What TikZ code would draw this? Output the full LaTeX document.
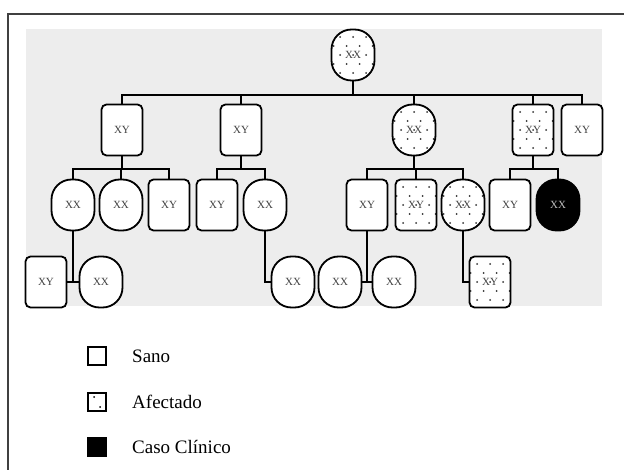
\documentclass[tikz,border=0pt]{standalone}
\usepackage{fontspec}
\setmainfont{Liberation Serif}
\usetikzlibrary{positioning}

\tikzset{
  person/.style={draw, line width=1.8pt, fill=white, minimum height=51pt, inner sep=0pt,
    font=\fontsize{11}{13}\selectfont, text=black!75},
  male/.style={person, rectangle, rounded corners=5pt, minimum width=41pt},
  female/.style={person, rectangle, rounded corners=20pt, minimum width=43pt},
  % dotted fill for the affected ones
  affected/.style={path picture={
    \foreach \j in {-3,...,3}
      \foreach \i in {-2,...,2}
        \fill[black!80] ([shift={({\i*13pt+mod(abs(\j),2)*6.5pt},{\j*9pt})}]path picture bounding box.center) circle (1pt);
  }},
  caso/.style={fill=black, text=black!25},
  link/.style={line width=2.8pt},
  legbox/.style={draw, line width=1.4pt, minimum size=18pt, inner sep=0pt},
  legtext/.style={right=22pt of #1, font=\fontsize{19}{22}\selectfont},
}

\begin{document}
\begin{tikzpicture}[x=1pt, y=-1pt]
\useasboundingbox (0,0) rectangle (624,470);

% frame and grey panel
\draw[black!75, line width=1.3pt] (8,470) -- (8,14) -- (624,14);
\fill[black!7] (26,29) rectangle (602,306);

% generation I
\node[female, affected] (G) at (353,55) {XX};

% generation II
\node[male] (a1) at (122,130) {XY};
\node[male] (a2) at (241,130) {XY};
\node[female, affected] (a3) at (414,130) {XX};
\node[male, affected] (a4) at (533,130) {XY};
\node[male] (a5) at (582,130) {XY};

% generation III
\node[female] (b1) at (73,205) {XX};
\node[female] (b2) at (121,205) {XX};
\node[male] (b3) at (169,205) {XY};
\node[male] (b4) at (217,205) {XY};
\node[female] (b5) at (265,205) {XX};
\node[male] (b6) at (367,205) {XY};
\node[male, affected] (b7) at (416,205) {XY};
\node[female, affected] (b8) at (463,205) {XX};
\node[male] (b9) at (510,205) {XY};
\node[female, caso] (b10) at (558,205) {XX};

% generation IV
\node[male] (c1) at (46,282) {XY};
\node[female] (c2) at (101,282) {XX};
\node[female] (c3) at (293,282) {XX};
\node[female] (c4) at (340,282) {XX};
\node[female] (c5) at (394,282) {XX};
\node[male, affected] (c6) at (490,282) {XY};

% connectors
\draw[link] (G.south) -- (G.south |- 0,95) coordinate (top);
\draw[link] (a1.north) |- (a5.north |- top) -- (a5.north);
\foreach \n in {a2,a3,a4}
  \draw[link] (\n.north) -- (\n.north |- top);

\foreach \p/\l/\r in {a1/b1/b3, a2/b4/b5, a3/b6/b8, a4/b9/b10}
{
  \draw[link] (\p.south) -- (\p.south |- 0,169) coordinate (m\p);
  \draw[link] (\l.north) |- (\r.north |- m\p) -- (\r.north);
}
\foreach \p/\n in {a1/b2, a3/b7}
  \draw[link] (\n.north) -- (\n.north |- m\p);

\draw[link] (c1.east) -- (c2.west);
\draw[link] (b1.south) -- (b1.south |- c1.east);
\draw[link] (b5.south) |- (c3.west);
\draw[link] (c4.east) -- (c5.west);
\draw[link] (b6.south) -- (b6.south |- c4.east);
\draw[link] (b8.south) |- (c6.west);

% legend
\node[legbox] (sano) at (97,356) {};
\node[legbox, path picture={
  \fill ([shift={(-3pt,5pt)}]path picture bounding box.center) circle (1pt);
  \fill ([shift={(3pt,-5pt)}]path picture bounding box.center) circle (1pt);
}] (afec) at (97,402) {};
\node[legbox, fill=black] (caso) at (97,447) {};
\node[legtext=sano] {Sano};
\node[legtext=afec] {Afectado};
\node[legtext=caso] {Caso Clínico};
\end{tikzpicture}
\end{document}
